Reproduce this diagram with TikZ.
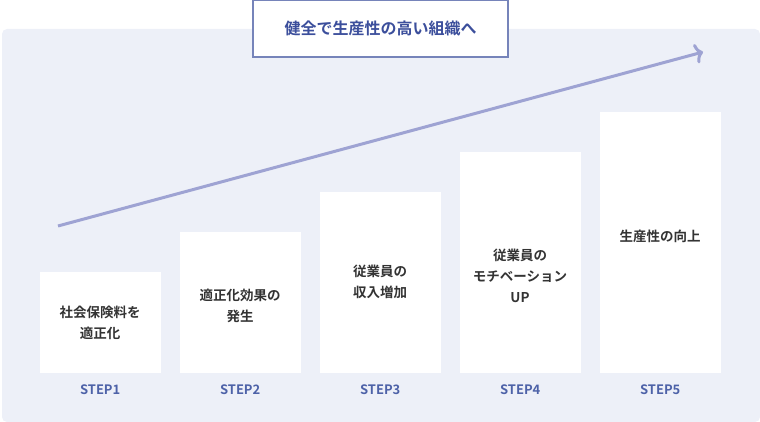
\documentclass[tikz,border=0pt]{standalone}
\usepackage{fontspec}
\setmainfont{Noto Sans CJK JP}[BoldFont={Noto Sans CJK JP Bold}]
\usetikzlibrary{arrows.meta,calc}
\definecolor{bg}{HTML}{EDF0F8}
\definecolor{ttl}{HTML}{3C4F9C}
\definecolor{arr}{HTML}{9EA3D3}
\definecolor{lbl}{HTML}{4D62A8}
\tikzset{
 stepbox/.style={draw=white,fill=white,minimum width=120pt,anchor=south west,inner sep=0pt},
 steptxt/.style={font=\bfseries\fontsize{13.5}{21}\selectfont,text=black!80,align=center},
 steplbl/.style={font=\bfseries\fontsize{13}{15}\selectfont,text=lbl}
}
\begin{document}
\begin{tikzpicture}[x=1pt,y=-1pt]
\useasboundingbox (0,0) rectangle (760,422);
\fill[bg,rounded corners=5pt] (2,29) rectangle (760,422);
\node[draw=ttl!70,line width=1.2pt,fill=white,minimum width=255pt,minimum height=57pt,inner sep=0pt,font=\bfseries\fontsize{16}{18}\selectfont,text=ttl] (title) at (380.5,28.5) {健全で生産性の高い組織へ};
\coordinate (a0) at (58,226); \coordinate (a1) at (703,52);
\draw[arr,line width=3pt,-{To[length=8pt,width=20pt,line width=3pt]}] (a0) -- (a1);
\node[stepbox,minimum height=100pt] (s1) at (40,372) {};
\node[steptxt] (t1) at (100,323) {社会保険料を\\適正化};
\node[stepbox,minimum height=140pt] (s2) at (180,372) {};
\node[steptxt] (t2) at (240,306) {適正化効果の\\発生};
\node[stepbox,minimum height=180pt] (s3) at (320,372) {};
\node[steptxt] (t3) at (380,282) {従業員の\\収入増加};
\node[stepbox,minimum height=220pt] (s4) at (460,372) {};
\node[steptxt] (t4) at (520,276) {従業員の\\モチベーション\\UP};
\node[stepbox,minimum height=260pt] (s5) at (600,372) {};
\node[steptxt] (t5) at (660,236) {生産性の向上};
\foreach \i in {1,...,5}{\node[steplbl] (l\i) at ($(s\i.south)+(0,18)$) {STEP\i};}
\end{tikzpicture}
\end{document}
